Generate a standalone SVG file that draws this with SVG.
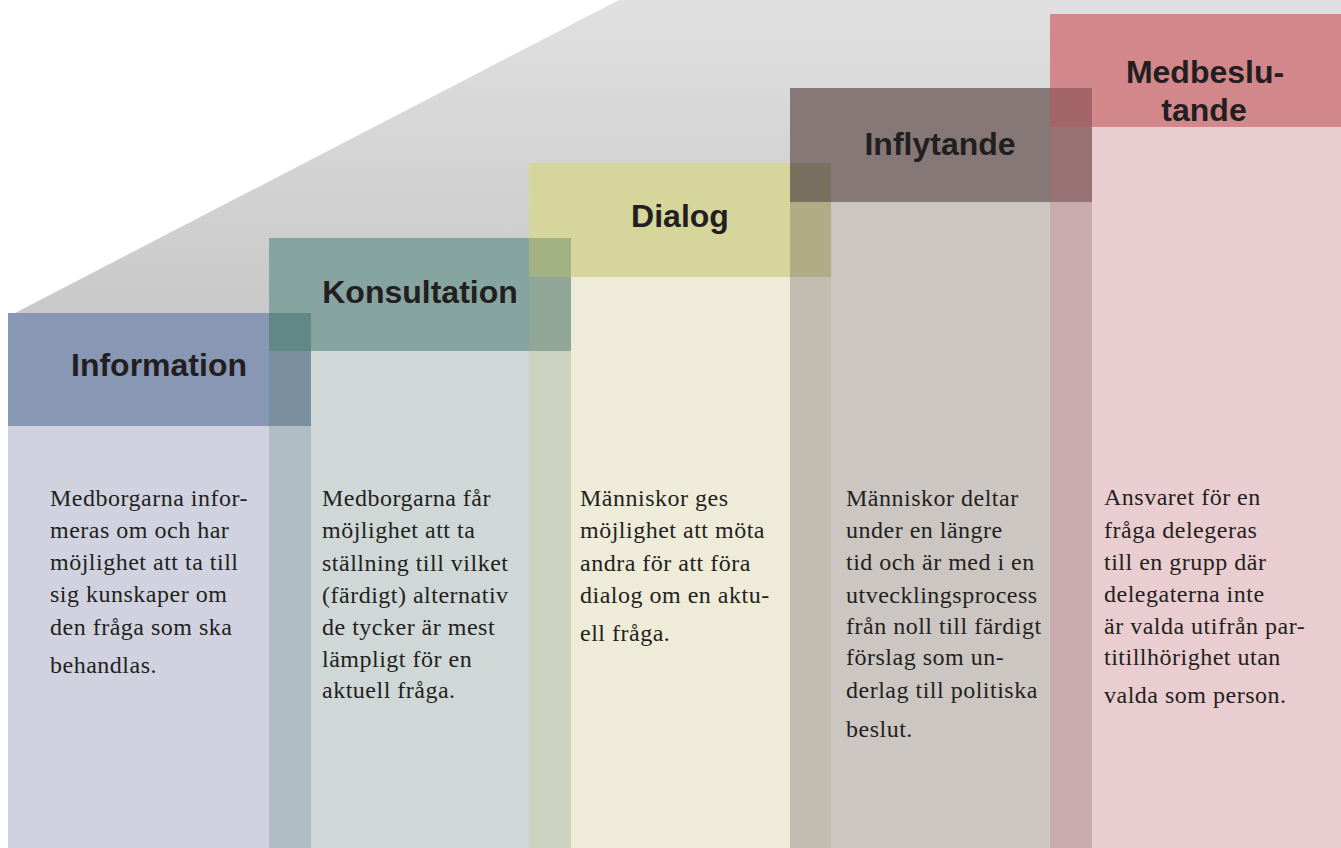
<svg xmlns="http://www.w3.org/2000/svg" width="1341" height="848" viewBox="0 0 1341 848">
<defs>
<linearGradient id="bgGrad" gradientUnits="userSpaceOnUse" x1="0" y1="0" x2="0" y2="313">
<stop offset="0" stop-color="#e0e0e0"/>
<stop offset="1" stop-color="#c9c9c9"/>
</linearGradient>
<style>
.hd{font-family:"Liberation Sans",Arial,sans-serif;font-weight:bold;font-size:32px;fill:#231f20;text-anchor:middle}
.bd{font-family:"Liberation Serif","Times New Roman",serif;font-size:24px;letter-spacing:0.5px;fill:#231f20}
</style>
</defs>
<rect x="0" y="0" width="1341" height="848" fill="#ffffff"/>
<polygon id="background" points="15,313 619,0 1341,0 1341,420 15,420" fill="url(#bgGrad)"/>

<g id="information">
<rect x="8" y="313" width="303" height="113" fill="#8898b4"/>
<rect x="8" y="426" width="303" height="422" fill="#d0d3df"/>
</g>
<g id="konsultation">
<rect x="269" y="238" width="302" height="113" fill="#87a5a0"/>
<rect x="269" y="351" width="302" height="497" fill="#cfd8d7"/>
</g>
<g id="dialog">
<rect x="529" y="163" width="302" height="114" fill="#d6d59b"/>
<rect x="529" y="277" width="302" height="571" fill="#eeebd9"/>
</g>
<g id="inflytande">
<rect x="790" y="88" width="302" height="114" fill="#857876"/>
<rect x="790" y="202" width="302" height="646" fill="#ccc6c3"/>
</g>
<g id="medbeslutande">
<rect x="1050" y="14" width="291" height="113" fill="#d2888b"/>
<rect x="1050" y="127" width="291" height="721" fill="#eacdd0"/>
</g>
<g id="overlaps">
<rect x="269" y="313" width="42" height="38" fill="#628787"/>
<rect x="269" y="351" width="42" height="75" fill="#7a90a1"/>
<rect x="269" y="426" width="42" height="422" fill="#b1bdc4"/>
<rect x="529" y="238" width="42" height="39" fill="#a3b283"/>
<rect x="529" y="277" width="42" height="74" fill="#90a797"/>
<rect x="529" y="351" width="42" height="497" fill="#cbd2bf"/>
<rect x="790" y="163" width="41" height="39" fill="#7a705f"/>
<rect x="790" y="202" width="41" height="75" fill="#b0ac86"/>
<rect x="790" y="277" width="41" height="571" fill="#c1bdb1"/>
<rect x="1050" y="88" width="42" height="39" fill="#a36568"/>
<rect x="1050" y="127" width="42" height="75" fill="#977376"/>
<rect x="1050" y="202" width="42" height="646" fill="#c9abad"/>
</g>
<g id="connectors"/>

<g id="information-text">
<text class="hd" x="159" y="376">Information</text>
<text class="bd" x="50" y="506">Medborgarna infor-</text>
<text class="bd" x="50" y="538">meras om och har</text>
<text class="bd" x="50" y="570">möjlighet att ta till</text>
<text class="bd" x="50" y="602">sig kunskaper om</text>
<text class="bd" x="50" y="635">den fråga som ska</text>
<text class="bd" x="50" y="673">behandlas.</text>
</g>
<g id="konsultation-text">
<text class="hd" x="420" y="303">Konsultation</text>
<text class="bd" x="322" y="506">Medborgarna får</text>
<text class="bd" x="322" y="538">möjlighet att ta</text>
<text class="bd" x="322" y="571">ställning till vilket</text>
<text class="bd" x="322" y="603">(färdigt) alternativ</text>
<text class="bd" x="322" y="635">de tycker är mest</text>
<text class="bd" x="322" y="667">lämpligt för en</text>
<text class="bd" x="322" y="698">aktuell fråga.</text>
</g>
<g id="dialog-text">
<text class="hd" x="680" y="227">Dialog</text>
<text class="bd" x="580" y="506">Människor ges</text>
<text class="bd" x="580" y="538">möjlighet att möta</text>
<text class="bd" x="580" y="571">andra för att föra</text>
<text class="bd" x="580" y="603">dialog om en aktu-</text>
<text class="bd" x="580" y="641">ell fråga.</text>
</g>
<g id="inflytande-text">
<text class="hd" x="940" y="155">Inflytande</text>
<text class="bd" x="846" y="506">Människor deltar</text>
<text class="bd" x="846" y="538">under en längre</text>
<text class="bd" x="846" y="570">tid och är med i en</text>
<text class="bd" x="846" y="603">utvecklingsprocess</text>
<text class="bd" x="846" y="634">från noll till färdigt</text>
<text class="bd" x="846" y="665">förslag som un-</text>
<text class="bd" x="846" y="698">derlag till politiska</text>
<text class="bd" x="846" y="737">beslut.</text>
</g>
<g id="medbeslutande-text">
<text class="hd" x="1205" y="83">Medbeslu-</text>
<text class="hd" x="1204" y="121">tande</text>
<text class="bd" x="1104" y="505">Ansvaret för en</text>
<text class="bd" x="1104" y="538">fråga delegeras</text>
<text class="bd" x="1104" y="570">till en grupp där</text>
<text class="bd" x="1104" y="602">delegaterna inte</text>
<text class="bd" x="1104" y="634">är valda utifrån par-</text>
<text class="bd" x="1104" y="665">titillhörighet utan</text>
<text class="bd" x="1104" y="703">valda som person.</text>
</g>
</svg>
